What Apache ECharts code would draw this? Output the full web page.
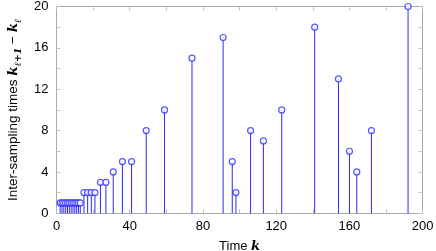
<!DOCTYPE html>
<html><head><meta charset="utf-8">
<script src="https://cdn.jsdelivr.net/npm/echarts@6/dist/echarts.min.js"></script>
<style>html,body{margin:0;padding:0;background:#fff}#c{width:436px;height:251px}</style>
</head><body><div id="c"></div>
<script>
const timeK = [2,3,4,5,6,7,8,9,10,11,12,13,15,17,19,21,24,27,31,36,41,49,59,74,91,96,98,106,113,123,141,154,160,164,172,192];
const interTimes = [1,1,1,1,1,1,1,1,1,1,1,1,2,2,2,2,3,3,4,5,5,8,10,15,17,5,2,8,7,10,18,13,6,4,8,20];
const xTickLabels = [0,40,80,120,160,200];
const yTickLabels = [0,4,8,12,16,20];

const pts = timeK.map((k,i)=>[k, interTimes[i]]);
const FONT = 'Liberation Sans';
const axisGray = '#a8a8a8';
const blue = '#2a2aff';

const chart = echarts.init(document.getElementById('c'), null, {renderer:'canvas'});
const baseAxis = {
  axisLine:{show:true, onZero:false, lineStyle:{color:axisGray, width:1}},
  axisTick:{show:true, inside:true, length:4, lineStyle:{color:'#c0c0c0'}},
  splitLine:{show:false}
};
chart.setOption({
  animation:false,
  grid:{left:56.5, right:13.3, top:6.5, bottom:37.7, containLabel:false, outerBoundsMode:'none'},
  xAxis:[
    Object.assign({type:'value', min:0, max:200, interval:20, position:'bottom',
      axisLabel:{color:'#000', fontFamily:FONT, fontSize:13, margin:7,
        formatter:v=>xTickLabels.includes(v)?String(v):''},
      name:'{t|Time }{k|k}', nameLocation:'middle', nameGap:27,
      nameTextStyle:{rich:{t:{fontFamily:FONT,fontSize:13,color:'#000'},k:{fontFamily:'DejaVu Serif',fontStyle:'italic',fontWeight:'bold',fontSize:13,color:'#000'}}}
    }, baseAxis),
    Object.assign({type:'value', min:0, max:200, interval:20, position:'top', axisLabel:{show:false}}, baseAxis)
  ],
  yAxis:[
    Object.assign({type:'value', min:0, max:20, interval:2, position:'left',
      axisLabel:{color:'#000', fontFamily:FONT, fontSize:13, margin:8,
        formatter:v=>yTickLabels.includes(v)?String(v):''},
      name:'{t|Inter-sampling times }{k|k}{s|ℓ+1}{t| − }{k|k}{s|ℓ}', nameLocation:'middle', nameGap:31,
      nameTextStyle:{rich:{
        t:{fontFamily:FONT,fontSize:13.5,color:'#000'},
        k:{fontFamily:'DejaVu Serif',fontStyle:'italic',fontWeight:'bold',fontSize:13.5,color:'#000'},
        s:{fontFamily:'DejaVu Serif',fontStyle:'italic',fontWeight:'bold',fontSize:9.5,color:'#000',padding:[9,0,0,0]}
      }}
    }, baseAxis),
    Object.assign({type:'value', min:0, max:20, interval:2, position:'right', axisLabel:{show:false}}, baseAxis)
  ],
  series:[
    {type:'custom', data:pts, renderItem:(params, api)=>{
      const a = api.coord([api.value(0), 0]);
      const b = api.coord([api.value(0), api.value(1)]);
      return {type:'line', shape:{x1:a[0], y1:a[1], x2:b[0], y2:b[1]}, style:{stroke:blue, lineWidth:1}};
    }, z:2},
    {type:'scatter', data:pts, symbol:'circle', symbolSize:6,
      itemStyle:{color:'#fff', borderColor:blue, borderWidth:1.2}, z:3}
  ]
});
</script></body></html>
